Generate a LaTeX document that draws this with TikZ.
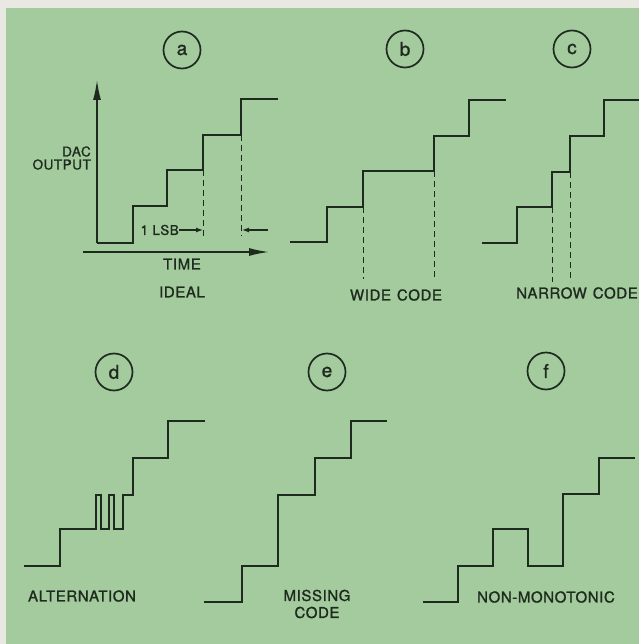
\documentclass[tikz,border=0pt]{standalone}
\usepackage{fontspec}
\setmainfont{TeX Gyre Heros}[FakeBold=1.2, LetterSpace=4]
\usetikzlibrary{arrows.meta}
\definecolor{paper}{HTML}{E9E8E3}
\definecolor{bggreen}{HTML}{A3CB9D}
\definecolor{ink}{HTML}{1E2A1E}
\tikzset{
  stair/.style={draw=ink, line width=2.7pt, line join=miter},
  guide/.style={draw=ink, line width=1pt, dash pattern=on 6pt off 4pt},
  tag/.style={circle, draw=ink, line width=1.7pt, minimum size=37pt, inner sep=0pt, font=\fontsize{19}{19}\selectfont, text=ink},
  lbl/.style={font=\fontsize{15}{17}\selectfont, text=ink, inner sep=0pt},
  smalllbl/.style={font=\fontsize{13.5}{15}\selectfont, text=ink, inner sep=0pt},
  axis/.style={draw=ink, line width=1.6pt}
}
\begin{document}
\begin{tikzpicture}[x=1pt, y=-1pt]
\useasboundingbox (0,0) rectangle (639,644);
\fill[paper] (0,0) rectangle (639,644);
\fill[bggreen] (6,8) rectangle (639,644);

% ---------- panel a ----------
\node[tag] (ta) at (182,50) {a};
\coordinate (ya0) at (97,243);
\coordinate (ya1) at (97,80);
\draw[axis, -{Latex[length=20pt,width=8pt]}] (ya0) -- (ya1);
\coordinate (xa0) at (83,252);
\coordinate (xa1) at (269,252);
\draw[axis, -{Latex[length=20pt,width=8pt]}] (xa0) -- (xa1);
\draw[stair] (97,243) -- (133,243) -- (133,206) -- (167,206) -- (167,170) -- (203,170) -- (203,135) -- (241,135) -- (241,99) -- (278,99);
\draw[guide] (203,170) -- (203,236);
\draw[guide] (241,135) -- (241,236);
\node[smalllbl, align=right, anchor=east] (dac) at (91,158) {DAC\\[-2pt]OUTPUT};
\node[smalllbl, anchor=east] (lsb) at (179,230) {1 LSB};
\coordinate (lsbL) at (203,230);
\coordinate (lsbR0) at (268,230);
\coordinate (lsbR) at (242,230);
\draw[ink, line width=1.2pt, -{Latex[length=7pt,width=5pt]}] (lsb.east) -- (lsbL);
\draw[ink, line width=1.2pt, -{Latex[length=7pt,width=5pt]}] (lsbR0) -- (lsbR);
\node[lbl] (time) at (182,264) {TIME};
\node[lbl] (ideal) at (182,292) {IDEAL};

% ---------- panel b ----------
\node[tag] (tb) at (405,49) {b};
\draw[stair] (290,242) -- (327,242) -- (327,207) -- (363,207) -- (363,171) -- (434,171) -- (434,136) -- (469,136) -- (469,100) -- (506,100);
\draw[guide] (363,207) -- (363,279);
\draw[guide] (434,171) -- (434,279);
\node[lbl] (wide) at (396,295) {WIDE\hspace{6pt}CODE};

% ---------- panel c ----------
\node[tag] (tc) at (572,49) {c};
\draw[stair] (482,243) -- (517,243) -- (517,207) -- (552,207) -- (552,172) -- (570,172) -- (570,136) -- (604,136) -- (604,100) -- (639,100);
\draw[guide] (552,207) -- (552,282);
\draw[guide] (570,172) -- (570,282);
\node[lbl] (narrow) at (577,293) {NARROW\hspace{6pt}CODE};

% ---------- panel d ----------
\node[tag] (td) at (114,372) {d};
\draw[stair, line width=2.3pt] (24,566) -- (60,566) -- (60,529) -- (96,529) -- (96,495) -- (101,495) -- (101,529) -- (109,529) -- (109,495) -- (114,495) -- (114,529) -- (123,529) -- (123,495) -- (133,495) -- (133,458) -- (168,458) -- (168,421) -- (205,421);
\node[lbl] (alt) at (82,596) {ALTERNATION};

% ---------- panel e ----------
\node[tag] (te) at (327,372) {e};
\draw[stair] (204,602) -- (242,602) -- (242,566) -- (278,566) -- (278,495) -- (315,495) -- (315,458) -- (351,458) -- (351,421) -- (387,421);
\node[lbl, align=center] (miss) at (317,604) {MISSING\\CODE};

% ---------- panel f ----------
\node[tag] (tf) at (546,371) {f};
\draw[stair] (423,602) -- (458,602) -- (458,566) -- (493,566) -- (493,529) -- (528,529) -- (528,566) -- (563,566) -- (563,494) -- (599,494) -- (599,458) -- (635,458);
\node[lbl] (nonmono) at (546,597) {NON-MONOTONIC};
\end{tikzpicture}
\end{document}
